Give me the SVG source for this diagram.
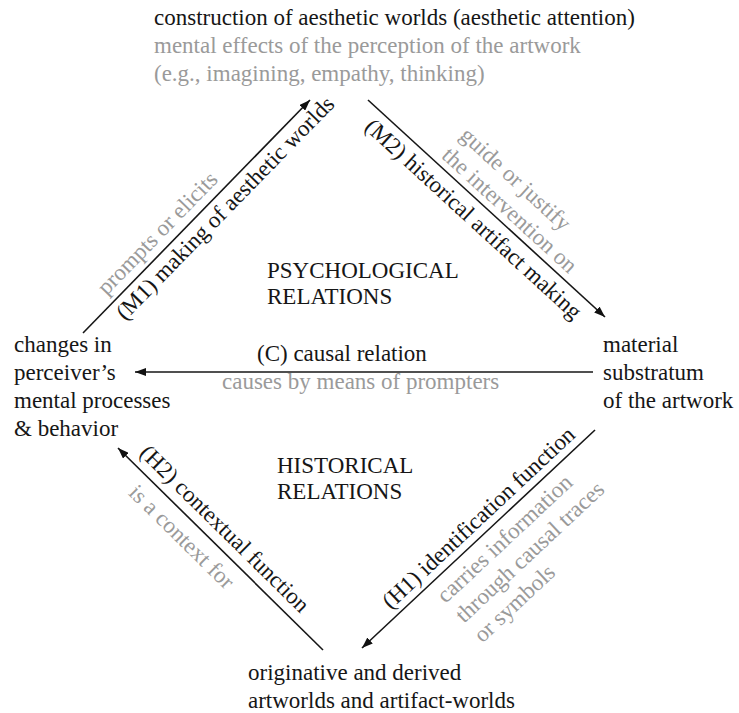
<svg xmlns="http://www.w3.org/2000/svg" width="739" height="713" viewBox="0 0 739 713">
<defs>
<marker id="ah" markerWidth="11" markerHeight="8" refX="11" refY="4" orient="auto" markerUnits="userSpaceOnUse">
<path d="M0,0 L11,4 L0,8 z" fill="#111"/>
</marker>
<style>
text{font-family:"Liberation Serif","Times New Roman",serif;font-size:23px;fill:#161616}
.g{fill:#9a9a9a}
.ln{stroke:#161616;stroke-width:1.6;fill:none}
.arr{marker-end:url(#ah)}
</style>
</defs>
<rect width="739" height="713" fill="#fff"/>

<g id="node-aesthetic-worlds">
<text x="154" y="25">construction of aesthetic worlds (aesthetic attention)</text>
<text class="g" x="154" y="53">mental effects of the perception of the artwork</text>
<text class="g" x="154" y="81">(e.g., imagining, empathy, thinking)</text>
</g>

<g id="node-perceiver">
<text x="14" y="352">changes in</text>
<text x="14" y="380">perceiver’s</text>
<text x="14" y="408">mental processes</text>
<text x="14" y="436">&amp; behavior</text>
</g>

<g id="node-substratum">
<text x="603" y="352">material</text>
<text x="603" y="380">substratum</text>
<text x="603" y="408">of the artwork</text>
</g>

<g id="node-artworlds">
<text x="248" y="680">originative and derived</text>
<text x="248" y="708">artworlds and artifact-worlds</text>
</g>

<g id="region-labels">
<text x="267" y="278">PSYCHOLOGICAL</text>
<text x="267" y="304">RELATIONS</text>
<text x="277" y="473">HISTORICAL</text>
<text x="277" y="499">RELATIONS</text>
</g>

<g id="connectors">
<line class="ln arr" x1="83" y1="333" x2="310" y2="100"/>
<line class="ln arr" x1="368" y1="100" x2="605" y2="317"/>
<line class="ln arr" x1="593" y1="372" x2="135" y2="372"/>
<line class="ln arr" x1="595" y1="430" x2="362" y2="648"/>
<line class="ln arr" x1="323" y1="650" x2="118" y2="448"/>

<g transform="translate(83,333) rotate(-45.74)">
<text x="38" y="22">(M1) making of aesthetic worlds</text>
<text class="g" x="43" y="-9">prompts or elicits</text>
</g>
<g transform="translate(368,100) rotate(42.48)">
<text x="16" y="24">(M2) historical artifact making</text>
<text class="g" x="92" y="-34">guide or justify</text>
<text class="g" x="92" y="-7">the intervention on</text>
</g>
<text x="257" y="361">(C) causal relation</text>
<text class="g" x="222" y="389">causes by means of prompters</text>
<g transform="translate(362,648) rotate(-43.09)">
<text x="47" y="-8">(H1) identification function</text>
<text class="g" x="91" y="25">carries information</text>
<text class="g" x="91" y="52">through causal traces</text>
<text class="g" x="91" y="79">or symbols</text>
</g>
<g transform="translate(118,448) rotate(44.58)">
<text x="19" y="-10">(H2) contextual function</text>
<text class="g" x="39" y="26">is a context for</text>
</g>
</g>
</svg>
